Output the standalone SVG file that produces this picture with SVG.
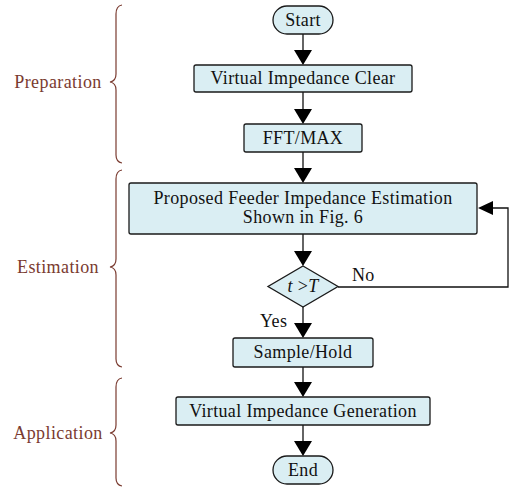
<svg xmlns="http://www.w3.org/2000/svg" width="510" height="487" viewBox="0 0 510 487">
<defs>
<style>
.box{fill:#DAEEF3;stroke:#1a1a1a;stroke-width:1.3}
.t{font-family:"Liberation Serif","Times New Roman",serif;font-size:18px;letter-spacing:0.35px;fill:#111;text-anchor:middle}
.lbl{font-family:"Liberation Serif","Times New Roman",serif;font-size:18px;letter-spacing:0.35px;fill:#111}
.sec{font-family:"Liberation Serif","Times New Roman",serif;font-size:18px;letter-spacing:0.4px;fill:#7A3B30;text-anchor:middle}
.br{fill:none;stroke:#7A3B30;stroke-width:1.2}
.ln{fill:none;stroke:#111;stroke-width:1.3}
.ah{fill:#000}
</style>
</defs>
<rect width="510" height="487" fill="#fff"/>
<g id="braces">
<path class="br" d="M122,5 Q116,6 116,14 L116,74 Q116,81 110,82 Q116,83 116,90 L116,155 Q116,162 122,163"/>
<path class="br" d="M122,170 Q116,171 116,179 L116,259 Q116,266 110,267 Q116,268 116,275 L116,359 Q116,366 122,367"/>
<path class="br" d="M122,378 Q116,379 116,387 L116,425 Q116,432 110,433 Q116,434 116,441 L116,478 Q116,485 122,486"/>
</g>
<g id="labels-sections">
<text class="sec" x="58" y="88">Preparation</text>
<text class="sec" x="58" y="273">Estimation</text>
<text class="sec" x="58" y="439">Application</text>
</g>
<g id="connectors">
<line class="ln" x1="303" y1="34" x2="303" y2="52"/>
<polygon class="ah" points="294,50 312,50 303,65"/>
<line class="ln" x1="303" y1="92" x2="303" y2="111"/>
<polygon class="ah" points="294,109 312,109 303,124"/>
<line class="ln" x1="303" y1="152" x2="303" y2="170"/>
<polygon class="ah" points="294,168 312,168 303,183"/>
<line class="ln" x1="303" y1="234" x2="303" y2="253"/>
<polygon class="ah" points="294,251 312,251 303,266"/>
<line class="ln" x1="303" y1="307" x2="303" y2="325"/>
<polygon class="ah" points="294,323 312,323 303,338"/>
<line class="ln" x1="303" y1="367" x2="303" y2="384"/>
<polygon class="ah" points="294,382 312,382 303,397"/>
<line class="ln" x1="303" y1="425" x2="303" y2="443"/>
<polygon class="ah" points="294,441 312,441 303,456"/>
<polyline class="ln" points="338,287 508,287 508,208 490,208"/>
<polygon class="ah" points="493,201 493,215 478,208"/>
<text class="lbl" x="352" y="281">No</text>
<text class="lbl" x="260" y="327">Yes</text>
</g>
<g id="start">
<rect class="box" x="273" y="6" width="60" height="28" rx="14"/>
<text class="t" x="303" y="26">Start</text>
</g>
<g id="vi-clear">
<rect class="box" x="194" y="65" width="218" height="27" rx="2"/>
<text class="t" x="303" y="84">Virtual Impedance Clear</text>
</g>
<g id="fft">
<rect class="box" x="244" y="124" width="118" height="28" rx="2"/>
<text class="t" x="303" y="144">FFT/MAX</text>
</g>
<g id="estimation">
<rect class="box" x="129" y="183" width="348" height="51" rx="2"/>
<text class="t" x="303" y="204">Proposed Feeder Impedance Estimation</text>
<text class="t" x="303" y="223">Shown in Fig. 6</text>
</g>
<g id="decision">
<polygon class="box" points="303,266 338,286.5 303,307 268,286.5"/>
<text class="t" x="303" y="292"><tspan font-style="italic">t</tspan> &gt;<tspan font-style="italic">T</tspan></text>
</g>
<g id="sample">
<rect class="box" x="233" y="338" width="140" height="29" rx="2"/>
<text class="t" x="303" y="358">Sample/Hold</text>
</g>
<g id="vi-gen">
<rect class="box" x="176" y="397" width="254" height="28" rx="2"/>
<text class="t" x="303" y="417">Virtual Impedance Generation</text>
</g>
<g id="end">
<rect class="box" x="273" y="456" width="60" height="28" rx="14"/>
<text class="t" x="303" y="476">End</text>
</g>
</svg>
